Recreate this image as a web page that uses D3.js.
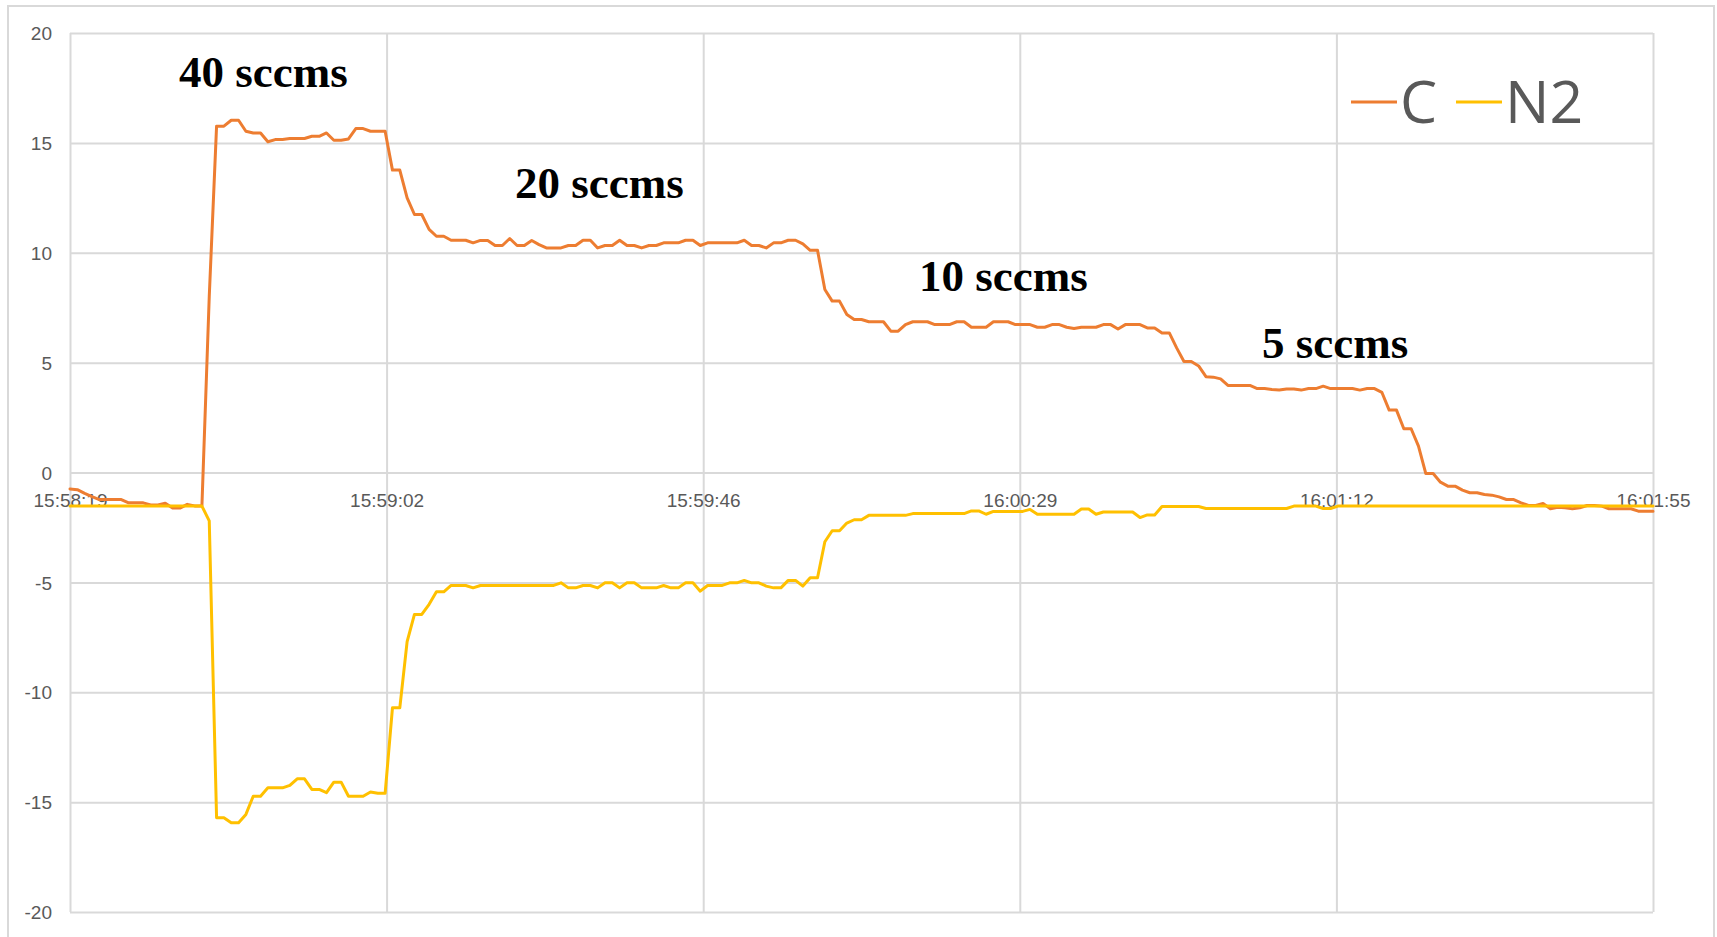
<!DOCTYPE html>
<html>
<head>
<meta charset="utf-8">
<script src="https://cdn.jsdelivr.net/npm/d3@7"></script>
<style>
  html, body { margin: 0; padding: 0; background: #ffffff; }
  svg { display: block; }
</style>
</head>
<body>
<svg id="chart" width="1717" height="937"></svg>
<script>
// Time labels shown on the category axis (one sample per second, 217 samples)
const timeLabels = ["15:58:19", "15:59:02", "15:59:46", "16:00:29", "16:01:12", "16:01:55"];
const yTicks = [-20, -15, -10, -5, 0, 5, 10, 15, 20];
const seriesNames = ["C", "N2"];
const flowLabels = ["40 sccms", "20 sccms", "10 sccms", "5 sccms"];

// Signal C, one value per second
const seriesC = [
  -0.75, -0.78, -0.95, -1.10, -1.23, -1.23, -1.23, -1.23, -1.38, -1.38,
  -1.38, -1.48, -1.48, -1.40, -1.62, -1.62, -1.45, -1.52, -1.52, 8.00,
  15.76, 15.76, 16.03, 16.03, 15.53, 15.45, 15.45, 15.05, 15.15, 15.15,
  15.20, 15.20, 15.20, 15.30, 15.30, 15.45, 15.12, 15.12, 15.18, 15.65,
  15.65, 15.53, 15.53, 15.53, 13.76, 13.76, 12.50, 11.74, 11.74, 11.06,
  10.75, 10.75, 10.57, 10.57, 10.57, 10.45, 10.56, 10.56, 10.33, 10.33,
  10.65, 10.33, 10.33, 10.56, 10.37, 10.22, 10.22, 10.22, 10.33, 10.33,
  10.57, 10.57, 10.22, 10.33, 10.33, 10.57, 10.33, 10.33, 10.22, 10.33,
  10.33, 10.45, 10.45, 10.45, 10.57, 10.57, 10.33, 10.45, 10.45, 10.45,
  10.45, 10.45, 10.57, 10.33, 10.33, 10.22, 10.45, 10.45, 10.57, 10.57,
  10.40, 10.11, 10.11, 8.33, 7.80, 7.80, 7.19, 6.96, 6.96, 6.86,
  6.86, 6.86, 6.43, 6.43, 6.73, 6.86, 6.86, 6.86, 6.73, 6.73,
  6.73, 6.86, 6.86, 6.61, 6.61, 6.61, 6.86, 6.86, 6.86, 6.73,
  6.73, 6.73, 6.61, 6.61, 6.73, 6.73, 6.61, 6.55, 6.61, 6.61,
  6.61, 6.73, 6.73, 6.53, 6.73, 6.73, 6.73, 6.58, 6.58, 6.35,
  6.35, 5.67, 5.05, 5.05, 4.85, 4.36, 4.34, 4.26, 3.96, 3.96,
  3.96, 3.96, 3.82, 3.82, 3.78, 3.75, 3.80, 3.80, 3.75, 3.82,
  3.82, 3.93, 3.82, 3.82, 3.82, 3.82, 3.75, 3.82, 3.82, 3.65,
  2.84, 2.84, 1.99, 1.99, 1.20, -0.05, -0.05, -0.44, -0.62, -0.62,
  -0.80, -0.92, -0.92, -1.00, -1.03, -1.11, -1.23, -1.23, -1.38, -1.50,
  -1.50, -1.41, -1.65, -1.58, -1.61, -1.65, -1.61, -1.50, -1.50, -1.53,
  -1.65, -1.65, -1.65, -1.65, -1.76, -1.76, -1.76
];

// Signal N2, one value per second
const seriesN2 = [
  -1.53, -1.53, -1.53, -1.53, -1.53, -1.53, -1.53, -1.53, -1.53, -1.53,
  -1.53, -1.53, -1.53, -1.53, -1.53, -1.53, -1.53, -1.53, -1.53, -2.20,
  -15.71, -15.71, -15.94, -15.94, -15.56, -14.73, -14.73, -14.35, -14.35, -14.35,
  -14.24, -13.94, -13.94, -14.42, -14.42, -14.57, -14.09, -14.09, -14.73, -14.73,
  -14.73, -14.54, -14.60, -14.60, -10.71, -10.71, -7.70, -6.46, -6.46, -6.00,
  -5.43, -5.43, -5.14, -5.14, -5.14, -5.25, -5.14, -5.14, -5.14, -5.14,
  -5.14, -5.14, -5.14, -5.14, -5.14, -5.14, -5.14, -5.02, -5.25, -5.25,
  -5.14, -5.14, -5.25, -5.02, -5.02, -5.25, -5.02, -5.02, -5.25, -5.25,
  -5.25, -5.14, -5.25, -5.25, -5.02, -5.02, -5.40, -5.14, -5.14, -5.14,
  -5.02, -5.02, -4.91, -5.02, -5.02, -5.17, -5.25, -5.25, -4.91, -4.91,
  -5.17, -4.79, -4.79, -3.15, -2.65, -2.65, -2.30, -2.15, -2.15, -1.95,
  -1.95, -1.95, -1.95, -1.95, -1.95, -1.87, -1.87, -1.87, -1.87, -1.87,
  -1.87, -1.87, -1.87, -1.75, -1.75, -1.90, -1.77, -1.77, -1.77, -1.77,
  -1.77, -1.68, -1.90, -1.90, -1.90, -1.90, -1.90, -1.90, -1.66, -1.66,
  -1.90, -1.80, -1.80, -1.80, -1.80, -1.80, -2.05, -1.93, -1.93, -1.55,
  -1.55, -1.55, -1.55, -1.55, -1.55, -1.64, -1.64, -1.64, -1.64, -1.64,
  -1.64, -1.64, -1.64, -1.64, -1.64, -1.64, -1.64, -1.53, -1.53, -1.53,
  -1.53, -1.64, -1.64, -1.53, -1.53, -1.53, -1.53, -1.53, -1.53, -1.53,
  -1.53, -1.53, -1.53, -1.53, -1.53, -1.53, -1.53, -1.53, -1.53, -1.53,
  -1.53, -1.53, -1.53, -1.53, -1.53, -1.53, -1.53, -1.53, -1.53, -1.53,
  -1.53, -1.53, -1.53, -1.53, -1.53, -1.53, -1.53, -1.53, -1.53, -1.53,
  -1.53, -1.53, -1.53, -1.53, -1.53, -1.53, -1.53
];

const colors = { C: "#ED7D31", N2: "#FFC000" };
const gridColor = "#d9d9d9";
const textColor = "#595959";

const svg = d3.select("#chart");
const W = 1717, H = 937;
const plot = { left: 70, top: 33, right: 1653, bottom: 912 };

// Outer chart frame
svg.append("rect")
  .attr("x", 8).attr("y", 6)
  .attr("width", 1706).attr("height", H + 10)
  .attr("fill", "#ffffff")
  .attr("stroke", gridColor).attr("stroke-width", 2);

const nPts = seriesC.length;
const x = d3.scaleLinear().domain([0, nPts - 1]).range([plot.left, plot.right]);
const y = d3.scaleLinear().domain([-20, 20]).range([plot.bottom, plot.top]);

// Positions of the labelled categories, evenly spread across the axis
const labelPos = timeLabels.map((_, i) => i * (nPts - 1) / (timeLabels.length - 1));

const grid = svg.append("g");

// Horizontal gridlines
grid.append("g")
  .attr("transform", `translate(${plot.left},0)`)
  .call(d3.axisLeft(y).tickValues(yTicks).tickSize(-(plot.right - plot.left)).tickFormat(""))
  .call(g => g.select(".domain").remove())
  .call(g => g.selectAll("line").attr("stroke", gridColor).attr("stroke-width", 2));

// Vertical gridlines
grid.append("g")
  .attr("transform", `translate(0,${plot.top})`)
  .call(d3.axisTop(x).tickValues(labelPos).tickSize(-(plot.bottom - plot.top)).tickFormat(""))
  .call(g => g.select(".domain").remove())
  .call(g => g.selectAll("line").attr("stroke", gridColor).attr("stroke-width", 2));

// Value axis labels (plain hyphen for negatives)
svg.append("g")
  .attr("transform", `translate(${plot.left - 18},0)`)
  .call(d3.axisLeft(y).tickValues(yTicks).tickSize(0).tickPadding(0).tickFormat(d => String(d)))
  .call(g => g.select(".domain").remove())
  .call(g => g.selectAll("text")
    .attr("fill", textColor)
    .attr("font-family", "'Liberation Sans', Arial, sans-serif")
    .attr("font-size", 19)
    .attr("dy", "0.35em"));

// Category axis labels, placed below the zero line
svg.append("g")
  .attr("transform", `translate(0,${y(0)})`)
  .call(d3.axisBottom(x).tickValues(labelPos).tickSize(0).tickPadding(21)
    .tickFormat((d, i) => timeLabels[i]))
  .call(g => g.select(".domain").remove())
  .call(g => g.selectAll("text")
    .attr("fill", textColor)
    .attr("font-family", "'Liberation Sans', Arial, sans-serif")
    .attr("font-size", 19));

// Series lines
const line = d3.line().x((d, i) => x(i)).y(d => y(d));
[["C", seriesC], ["N2", seriesN2]].forEach(([name, vals]) => {
  svg.append("path")
    .datum(vals)
    .attr("fill", "none")
    .attr("stroke", colors[name])
    .attr("stroke-width", 3)
    .attr("stroke-linejoin", "round")
    .attr("stroke-linecap", "round")
    .attr("d", line);
});

// Flow-rate annotations for each step
const flowPlacement = [[179, 87], [515, 198], [919, 291], [1262, 358]];
svg.append("g").selectAll("text")
  .data(flowLabels)
  .join("text")
  .attr("x", (d, i) => flowPlacement[i][0])
  .attr("y", (d, i) => flowPlacement[i][1])
  .attr("font-family", "'Liberation Serif', 'Times New Roman', serif")
  .attr("font-weight", "bold")
  .attr("font-size", 45)
  .attr("fill", "#000000")
  .text(d => d);

// Legend
const legend = svg.append("g");
const legendItems = [
  { name: seriesNames[0], lx: 1351, tx: 1400 },
  { name: seriesNames[1], lx: 1456, tx: 1505 }
];
legendItems.forEach(it => {
  legend.append("line")
    .attr("x1", it.lx).attr("x2", it.lx + 46)
    .attr("y1", 102).attr("y2", 102)
    .attr("stroke", colors[it.name]).attr("stroke-width", 3);
  legend.append("text")
    .attr("x", it.tx).attr("y", 123)
    .attr("font-family", "'Open Sans', 'Noto Sans', sans-serif")
    .attr("font-size", 59)
    .attr("fill", textColor)
    .text(it.name);
});
</script>
</body>
</html>
